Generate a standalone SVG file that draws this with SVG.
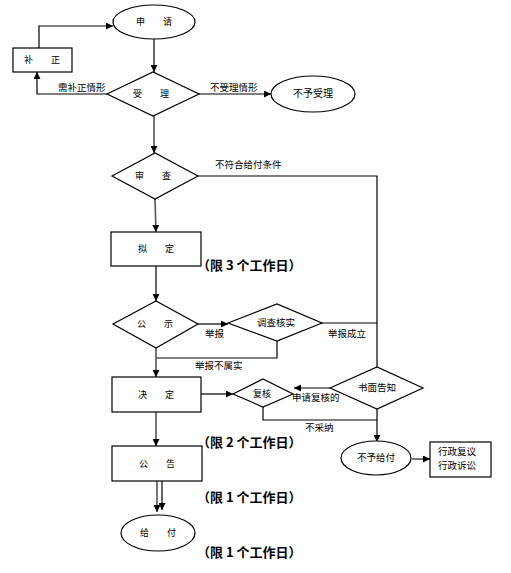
<svg xmlns="http://www.w3.org/2000/svg" width="511" height="573" viewBox="0 0 511 573">
<style>
.s{fill:#fff;stroke:#000;stroke-width:1.2}
.t{font-family:"Noto Sans CJK SC","Liberation Sans",sans-serif;font-size:9px;fill:#000;text-anchor:middle}
.l{font-family:"Noto Sans CJK SC","Liberation Sans",sans-serif;font-size:9.5px;fill:#000}
.b{font-family:"Noto Sans CJK SC","Liberation Sans",sans-serif;font-size:13px;font-weight:bold;fill:#000}
.c{fill:none;stroke:#000;stroke-width:1.2}
.g{fill:none;stroke:#555;stroke-width:1.6}
</style>
<defs>
<marker id="a" viewBox="0 0 10 10" refX="10" refY="5" markerWidth="7" markerHeight="7" markerUnits="userSpaceOnUse" orient="auto">
<path d="M0,0 L10,5 L0,10 z" fill="#000"/>
</marker>
</defs>
<rect width="511" height="573" fill="#fff"/>
<g id="connectors">
<path class="c" d="M39,48 V26 H113" marker-end="url(#a)"/>
<path class="c" d="M154,39 V72" marker-end="url(#a)"/>
<path class="c" d="M107,94 H37 V72" marker-end="url(#a)"/>
<path class="c" d="M198,94 H271" marker-end="url(#a)"/>
<path class="g" d="M154,116 V153" marker-end="url(#a)"/>
<path class="c" d="M198,176 H377 V367"/>
<path class="g" d="M155,199 L156,232" marker-end="url(#a)"/>
<path class="c" d="M156,266 V301" marker-end="url(#a)"/>
<path class="c" d="M198,324 H228" marker-end="url(#a)"/>
<path class="c" d="M322,323 H377"/>
<path class="c" d="M277,341 V358 H156"/>
<path class="g" d="M156,348 V377" marker-end="url(#a)"/>
<path class="c" d="M201,394 H233" marker-end="url(#a)"/>
<path class="c" d="M330,388 H294" marker-end="url(#a)"/>
<path class="c" d="M263,407 V420 H377"/>
<path class="c" d="M377,409 V442" marker-end="url(#a)"/>
<path class="g" d="M412,459 H430" marker-end="url(#a)"/>
<path class="g" d="M156,412 V446" marker-end="url(#a)"/>
<path class="g" d="M157,481 V512" marker-end="url(#a)"/>
<path class="c" d="M162,481 V510" marker-end="url(#a)"/>
</g>
<g id="labels">
<text class="l" x="58" y="91">需补正情形</text>
<text class="l" x="210" y="91">不受理情形</text>
<text class="l" x="215" y="168">不符合给付条件</text>
<text class="l" x="205" y="337">举报</text>
<text class="l" x="328" y="337">举报成立</text>
<text class="l" x="195" y="369">举报不属实</text>
<text class="l" x="292" y="401">申请复核的</text>
<text class="l" x="305" y="431">不采纳</text>
<text class="b" x="197" y="270">（限 3 个工作日）</text>
<text class="b" x="197" y="447">（限 2 个工作日）</text>
<text class="b" x="197" y="502">（限 1 个工作日）</text>
<text class="b" x="197" y="557">（限 1 个工作日）</text>
</g>
<g id="n-shenqing"><ellipse class="s" cx="154" cy="22" rx="41" ry="17"/><text class="t" x="154" y="25">申　　请</text></g>
<g id="n-buzheng"><rect class="s" x="13" y="48" width="59" height="24"/><text class="t" x="42" y="63">补　　正</text></g>
<g id="n-shouli"><path class="s" d="M107,94 L153,72 L199,94 L153,116 z"/><text class="t" x="151" y="97">受　　理</text></g>
<g id="n-buyushouli"><ellipse class="s" cx="313" cy="94" rx="42" ry="18"/><text class="t" x="313" y="97" style="font-size:10px">不予受理</text></g>
<g id="n-shencha"><path class="s" d="M112,176 L155,153 L198,176 L155,199 z"/><text class="t" x="153" y="179">审　　查</text></g>
<g id="n-niding"><rect class="s" x="111" y="232" width="90" height="34"/><text class="t" x="156" y="252">拟　　定</text></g>
<g id="n-gongshi"><path class="s" d="M113,324 L156,301 L198,324 L156,348 z"/><text class="t" x="155" y="327">公　　示</text></g>
<g id="n-diaocha"><path class="s" d="M228,323 L277,304 L322,323 L277,341 z"/><text class="t" x="276" y="326" style="font-size:9.5px">调查核实</text></g>
<g id="n-jueding"><rect class="s" x="112" y="377" width="89" height="35"/><text class="t" x="156" y="398">决　　定</text></g>
<g id="n-fuhe"><path class="s" d="M233,394 L263,379 L293,394 L263,407 z"/><text class="t" x="262" y="397">复核</text></g>
<g id="n-shumian"><path class="s" d="M330,388 L377,367 L423,388 L377,409 z"/><text class="t" x="377" y="391" style="font-size:9.5px">书面告知</text></g>
<g id="n-buyugeifu"><ellipse class="s" cx="376" cy="458" rx="35" ry="17"/><text class="t" x="376" y="461" style="font-size:9.5px">不予给付</text></g>
<g id="n-xingzheng"><rect class="s" x="430" y="442" width="61" height="35"/><text class="l" x="438" y="455">行政复议</text><text class="l" x="438" y="469">行政诉讼</text></g>
<g id="n-gonggao"><rect class="s" x="112" y="446" width="90" height="35"/><text class="t" x="157" y="467">公　　告</text></g>
<g id="n-geifu"><ellipse class="s" cx="158" cy="533" rx="37" ry="18"/><text class="t" x="158" y="536">给　　付</text></g>
</svg>
